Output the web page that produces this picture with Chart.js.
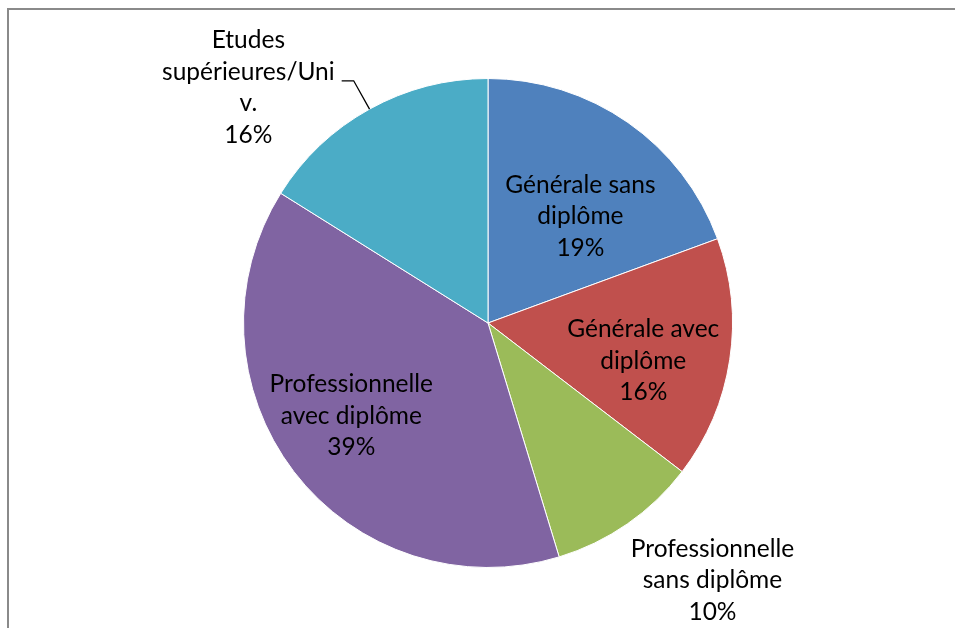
<!DOCTYPE html>
<html>
<head>
<meta charset="utf-8">
<script src="https://cdn.jsdelivr.net/npm/chart.js@4.4.1/dist/chart.umd.min.js"></script>
<style>
  html, body { margin: 0; padding: 0; background: #fff; }
  #wrap { width: 955px; height: 628px; position: relative; }
</style>
</head>
<body>
<div id="wrap"><canvas id="pieChart" width="955" height="628"></canvas></div>
<script>
// ---- data ----
const categories = [
  'Générale sans diplôme',
  'Générale avec diplôme',
  'Professionnelle sans diplôme',
  'Professionnelle avec diplôme',
  'Etudes supérieures/Univ.'
];
const shares = [19.4, 16.0, 9.9, 38.6, 16.1];
const sliceColors = ['#4F81BD', '#C0504D', '#9BBB59', '#8064A2', '#4BACC6'];

// wrapped label text, as the original shows it
const labelLines = [
  ['Générale sans', 'diplôme'],
  ['Générale avec', 'diplôme'],
  ['Professionnelle', 'sans diplôme'],
  ['Professionnelle', 'avec diplôme'],
  ['Etudes', 'supérieures/Uni', 'v.']
];

// label block centres, in pie radii from the pie centre
const labelAnchors = [
  { x: 0.378, y: -0.437 },
  { x: 0.635, y: 0.155 },
  { x: 0.918, y: 1.053 },
  { x: -0.559, y: 0.380 },
  { x: -0.980, y: -0.963, leader: 1 }
];

const FONT = '24.5px Lato';
const LINE_H = 31.5;

const frameAndLabels = {
  id: 'frameAndLabels',
  beforeDraw(chart) {
    const ctx = chart.ctx;
    ctx.save();
    ctx.strokeStyle = '#8a8a8a';
    ctx.lineWidth = 2;
    ctx.beginPath();
    ctx.moveTo(8, 628);
    ctx.lineTo(8, 9);
    ctx.lineTo(955, 9);
    ctx.stroke();
    ctx.restore();
  },
  afterDatasetsDraw(chart) {
    const ctx = chart.ctx;
    const meta = chart.getDatasetMeta(0);
    const total = shares.reduce((a, b) => a + b, 0);
    ctx.save();
    ctx.font = FONT;
    ctx.fillStyle = '#000';
    ctx.textAlign = 'center';
    ctx.textBaseline = 'middle';
    meta.data.forEach((arc, i) => {
      const R = arc.outerRadius;
      const cx = arc.x + labelAnchors[i].x * R;
      const cy = arc.y + labelAnchors[i].y * R;
      const lines = labelLines[i].concat([Math.round(shares[i] / total * 100) + '%']);
      const top = cy - (lines.length - 1) * LINE_H / 2;
      lines.forEach((t, k) => ctx.fillText(t, cx, top + k * LINE_H));

      if (labelAnchors[i].leader !== undefined) {
        const k = labelAnchors[i].leader;
        const w = ctx.measureText(lines[k]).width;
        const sx = cx + w / 2 + 7;
        const sy = top + k * LINE_H + 9;
        const mid = (arc.startAngle + arc.endAngle) / 2;
        const ex = arc.x + Math.cos(mid) * R;
        const ey = arc.y + Math.sin(mid) * R;
        ctx.strokeStyle = '#000';
        ctx.lineWidth = 1.3;
        ctx.beginPath();
        ctx.moveTo(sx, sy);
        ctx.lineTo(sx + 12, sy);
        ctx.lineTo(ex, ey);
        ctx.stroke();
      }
    });
    ctx.restore();
  }
};

new Chart(document.getElementById('pieChart').getContext('2d'), {
  type: 'pie',
  data: {
    labels: categories,
    datasets: [{
      data: shares,
      backgroundColor: sliceColors,
      borderColor: '#ffffff',
      borderWidth: 1
    }]
  },
  options: {
    responsive: false,
    animation: false,
    layout: { padding: { top: 78, bottom: 60, left: 243, right: 222 } },
    plugins: {
      legend: { display: false },
      tooltip: { enabled: false }
    }
  },
  plugins: [frameAndLabels]
});
</script>
</body>
</html>
